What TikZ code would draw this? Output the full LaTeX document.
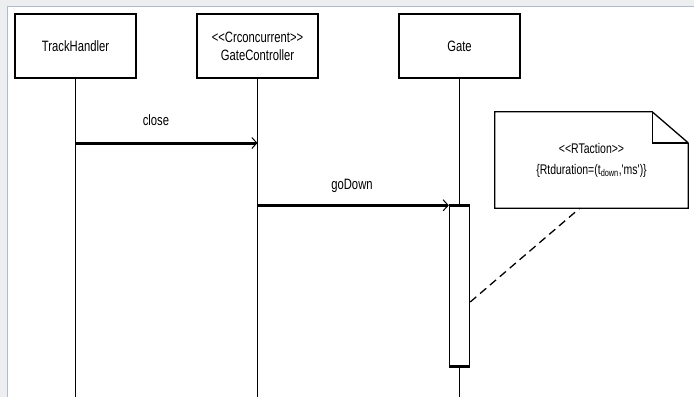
\documentclass[tikz,border=0pt]{standalone}
\usepackage{fontspec}
\setmainfont[FakeStretch=0.75, Ligatures=TeXOff]{Liberation Sans}
\usepackage{tikz}
\usetikzlibrary{arrows.meta,positioning}
\definecolor{framegray}{RGB}{236,238,240}
\definecolor{frameline}{RGB}{176,188,204}
\newcommand{\stereo}[1]{<<#1>>}

\tikzset{
  lifebox/.style={draw, line width=1.6pt, minimum width=121pt, minimum height=64pt, align=center, inner sep=0pt},
  lifeline/.style={line width=1.4pt},
  msg/.style={line width=3pt, -{Straight Barb[length=5pt,width=11pt,line width=1pt]}},
  msglabel/.style={inner sep=0pt},
  actbox/.style={draw, fill=white, line width=1.4pt, minimum width=20pt, minimum height=160pt, inner sep=0pt},
  notelink/.style={line width=1.3pt, dash pattern=on 8pt off 5pt}
}

\begin{document}
\begin{tikzpicture}[x=1pt, y=-1pt, font=\fontsize{15}{18}\selectfont]
\useasboundingbox (0,0) rectangle (694,397);
% window frame
\fill[framegray] (0,0) rectangle (694,397);
\fill[white] (7,6) rectangle (694,397);
\draw[frameline, line width=1pt] (7,397) -- (7,6) -- (694,6);

% objects
\node[lifebox] (th) at (75.5,46) {TrackHandler};
\node[lifebox] (gc) at (257.5,46) {\stereo{Crconcurrent}\\GateController};
\node[lifebox] (gt) at (459.5,46) {Gate};

% lifelines
\draw[lifeline] (th.south) -- (th.south |- 0,397);
\draw[lifeline] (gc.south) -- (gc.south |- 0,397);
\draw[lifeline] (gt.south) -- (gt.south |- 0,397);

% activation of Gate
\node[actbox] (act) at (459.5,286) {};
\draw[line width=2.6pt] (act.north west) -- (act.north east);
\draw[line width=2.6pt] (act.south west) -- (act.south east);

% messages
\draw[msg] (th.south |- 0,143) -- (gc.south |- 0,143);
\node[msglabel] (closelbl) at (156,120) {close};
\draw[msg] (gc.south |- act.north) -- (act.north west);
\node[msglabel] (godownlbl) at (352,186) {goDown};

% note
\node[minimum width=193pt, minimum height=96pt, align=center, inner sep=0pt,
      font=\fontsize{14}{21}\selectfont] (note) at (591.5,160)
  {\stereo{RTaction}\\\{Rtduration=(t\textsubscript{down},'ms')\}};
\draw[line width=1.3pt] (note.north east) ++(0,31) coordinate (fold)
  -- (note.south east) -- (note.south west) -- (note.north west)
  -- ([xshift=-36pt]note.north east) coordinate (corner) -- (fold);
\draw[line width=1.3pt] (corner) -- (corner |- fold);
\draw[line width=2.6pt] (corner |- fold) -- (fold);

% note link
\draw[notelink] (act.east |- 0,302) -- ([xshift=85pt]note.south west);
\end{tikzpicture}
\end{document}
